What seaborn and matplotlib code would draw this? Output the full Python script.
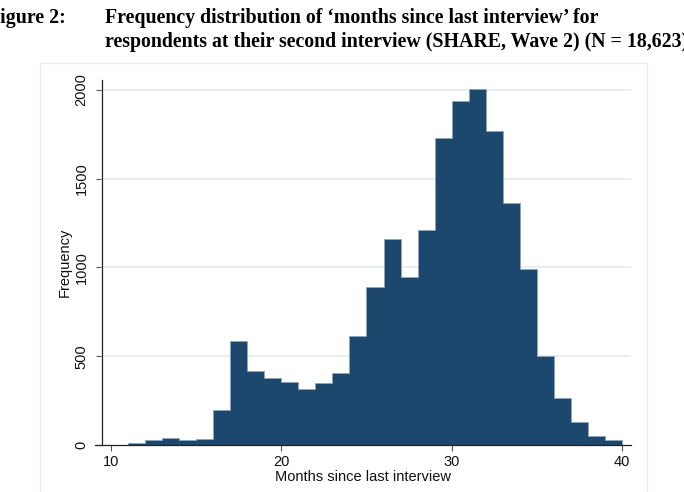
import numpy as np
import pandas as pd
import matplotlib
matplotlib.use("Agg")
import matplotlib.pyplot as plt
import seaborn as sns
from matplotlib.patches import Rectangle

# ---- data ----
bin_edges = [11, 12, 13, 14, 15, 16, 17, 18, 19, 20, 21, 22, 23, 24, 25, 26, 27,
             28, 29, 30, 31, 32, 33, 34, 35, 36, 37, 38, 39, 40]
counts = [13, 28, 39, 26, 32, 199, 584, 419, 377, 355, 313, 347, 406,
          616, 888, 1162, 945, 1213, 1730, 1936, 2007, 1769, 1365, 993,
          500, 265, 130, 51, 26]
x_ticks = [10, 20, 30, 40]
y_ticks = [0, 500, 1000, 1500, 2000]
title_label = "Figure 2:"
title_line1 = "Frequency distribution of \u2018months since last interview\u2019 for"
title_line2 = "respondents at their second interview (SHARE, Wave 2) (N = 18,623)"
x_label = "Months since last interview"
y_label = "Frequency"

sns.set_theme(style="white")
plt.rcParams['font.family'] = ['Liberation Sans', 'DejaVu Sans']

W, H = 684, 492
fig = plt.figure(figsize=(W / 100, H / 100), dpi=100)

# faint outer graph-region frame (Stata style)
fig.add_artist(Rectangle((40 / W, -0.05), (647 - 40) / W, (H - 63) / H + 0.05,
                         transform=fig.transFigure, fill=False,
                         edgecolor='#ececec', linewidth=1.0))

ax_l, ax_r, ax_t, ax_b = 95.4, 631, 80, 445
ax = fig.add_axes([ax_l / W, (H - ax_b) / H, (ax_r - ax_l) / W, (ax_b - ax_t) / H])

df = pd.DataFrame({
    "month": [(a + b) / 2 for a, b in zip(bin_edges[:-1], bin_edges[1:])],
    "count": counts,
})
sns.histplot(data=df, x="month", weights="count", bins=bin_edges, ax=ax,
             element="step", fill=True,
             color='#1d486d', alpha=1.0, edgecolor='#8ea5bb', linewidth=0.6,
             zorder=3)

xmin, xmax = 9.084, 40.53
spine_x = 9.45
ax.set_xlim(xmin, xmax)
ax.set_ylim(0, 2056)

# gridlines from the y axis to the right end
for yv in y_ticks[1:]:
    ax.axhline(yv, xmin=(spine_x - xmin) / (xmax - xmin), xmax=1,
               color='#e9edf0', linewidth=1.3, zorder=1)

ax.spines['top'].set_visible(False)
ax.spines['right'].set_visible(False)
ax.spines['left'].set_position(('data', spine_x))
for s in ('left', 'bottom'):
    ax.spines[s].set_color('#222222')
    ax.spines[s].set_linewidth(0.9)
    ax.spines[s].set_zorder(4)

ax.set_xticks(x_ticks)
ax.set_yticks(y_ticks)
ax.set_xticklabels([str(v) for v in x_ticks])
ax.set_yticklabels([str(v) for v in y_ticks], rotation=90, va='center')
ax.tick_params(axis='both', which='major', direction='out', length=4.5,
               width=0.8, color='#555555', labelsize=10.5, labelcolor='#111111',
               bottom=True, left=True)
ax.tick_params(axis='x', pad=3)
ax.tick_params(axis='y', pad=5)

ax.set_xlabel(x_label, fontsize=10.5, labelpad=0.5, color='#111111')
ax.set_ylabel(y_label, fontsize=10.5, labelpad=2, color='#111111')

# title block (bold serif, cut off at the edges as in the reference)
tfont = dict(family=['Liberation Serif', 'DejaVu Serif'], weight='bold',
             fontsize=14.3, color='black')
fig.text(-12 / W, 1 - 23 / H, title_label, ha='left', va='baseline', **tfont)
fig.text(105 / W, 1 - 23 / H, title_line1, ha='left', va='baseline', **tfont)
fig.text(105 / W, 1 - 46.5 / H, title_line2, ha='left', va='baseline', **tfont)

fig.savefig("out.png", dpi=100)
